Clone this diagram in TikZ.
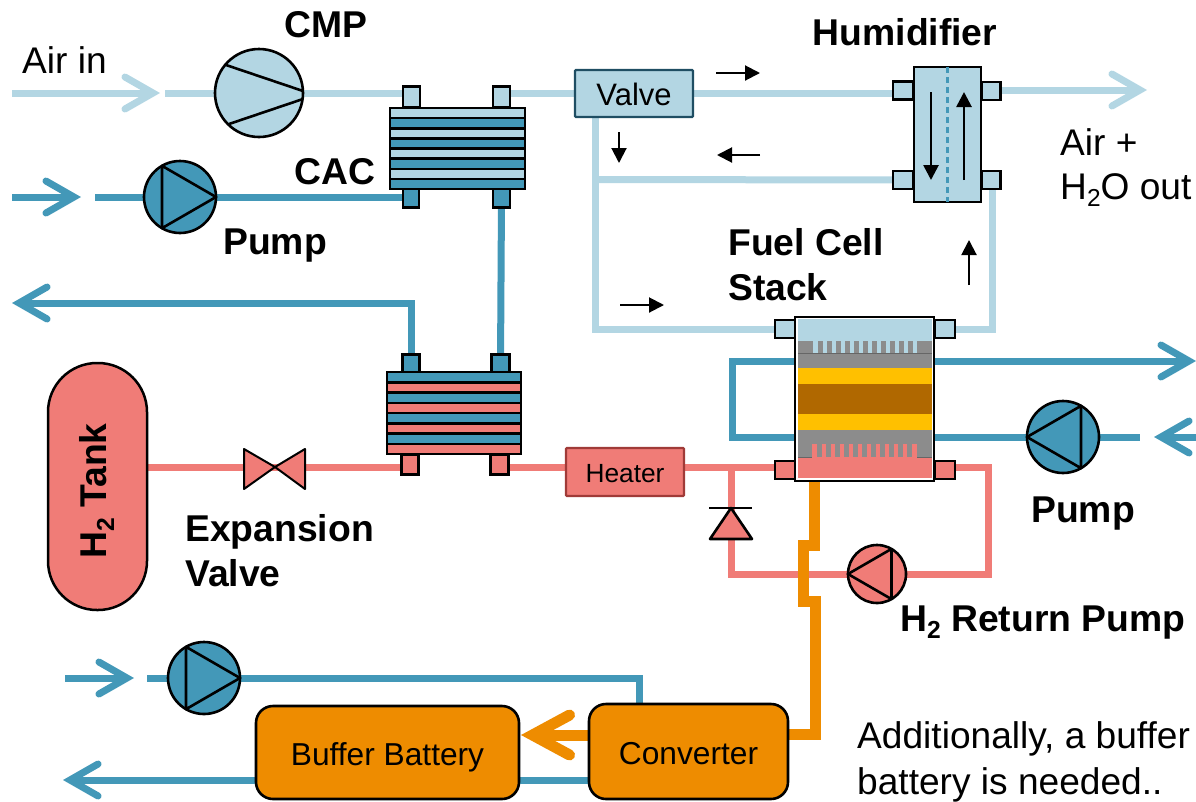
\documentclass[tikz,border=0pt]{standalone}
\usepackage{fontspec}
\setmainfont{Liberation Sans}
\usetikzlibrary{arrows.meta,calc,backgrounds}
\definecolor{lblue}{HTML}{B3D6E3}
\definecolor{teal}{HTML}{4398B8}
\definecolor{salm}{HTML}{F07C77}
\definecolor{orng}{HTML}{EE8C00}
\definecolor{yell}{HTML}{FFC000}
\definecolor{brwn}{HTML}{B06800}
\definecolor{gry}{HTML}{8C8C8C}
\definecolor{valveline}{HTML}{1F4E63}
\definecolor{heatline}{HTML}{A03B38}
\newcommand\fs[1]{\fontsize{#1}{#1}\selectfont}
\newcommand\subtwo{\raisebox{-0.2em}{\scalebox{0.66}{2}}}
\newcommand\pumptri[3]{\draw[symline] ($(#1)+(#3:#2pt)$) -- ($(#1)+(#3+120:#2pt)$) -- ($(#1)+(#3+240:#2pt)$) -- cycle;}
\tikzset{
  pipe/.style={line width=7pt,line join=miter},
  air/.style={pipe,draw=lblue},
  cool/.style={pipe,draw=teal},
  hyd/.style={pipe,draw=salm},
  barb/.style={-{Straight Barb[length=28pt,width=32pt,line width=7pt,line cap=round,line join=miter]}},
  symline/.style={draw=black,line width=2.6pt,line join=round},
  port/.style={draw=black,line width=2.6pt,rectangle,inner sep=0pt,minimum width=#1,minimum height=17pt},
  pumpc/.style={draw=black,circle,line width=2.6pt,inner sep=0pt,outer sep=0pt,minimum size=#1},
  blackbox/.style={draw=black,line width=2.6pt,rectangle,inner sep=0pt,outer sep=0pt},
  compbox/.style={rectangle,inner sep=0pt,outer sep=0pt,line width=2.4pt,rounded corners=1pt},
  battbox/.style={draw=black,line width=2.6pt,fill=orng,rectangle,rounded corners=17pt,inner sep=0pt,outer sep=0pt,font=\fs{31.7},text height=25pt,text depth=0pt},
  lab/.style={font=\bfseries\fs{37.3},inner sep=0pt,text=black},
  txt/.style={font=\fs{37.1},inner sep=0pt,text=black},
  flow/.style={draw=black,line width=2pt,-{Triangle[length=15pt,width=15pt]}},
  hflow/.style={draw=black,line width=2.7pt,-{Triangle[length=15pt,width=15pt]}},
}
\begin{document}
\begin{tikzpicture}[x=1pt,y=-1pt]
\useasboundingbox (0,0) rectangle (1196,801);

% pumps / compressor
\node[pumpc=88pt,fill=lblue] (cmp) at (259,93) {};
\draw[symline] ($(cmp)+(-33,-28)$) -- ($(cmp)+(44,-2)$);
\draw[symline] ($(cmp)+(-30,31)$) -- ($(cmp)+(44,6)$);
\node[pumpc=72pt,fill=teal] (pumpa) at (180,197) {};
\pumptri{pumpa}{36}{0}
\node[pumpc=72pt,fill=teal] (pumpb) at (1063,437) {};
\pumptri{pumpb}{36}{180}
\node[pumpc=72pt,fill=teal] (pumpc) at (204,678) {};
\pumptri{pumpc}{36}{0}
\node[pumpc=58pt,fill=salm] (pumpr) at (877,574) {};
\pumptri{pumpr}{29}{180}

% CAC heat exchanger
\node[port=17pt,fill=lblue,minimum height=21pt] (cacpa) at (411.5,97) {};
\node[port=17pt,fill=lblue,minimum height=21pt] (cacpb) at (501.5,97) {};
\node[port=16pt,fill=teal,minimum height=19pt] (cacpc) at (411,198) {};
\node[port=17pt,fill=teal,minimum height=19pt] (cacpd) at (501.5,198) {};
\node[blackbox,minimum width=135pt,minimum height=81pt,fill=lblue] (cac) at (457.5,148.5) {};
\foreach \i in {0,...,7}{
  \pgfmathsetmacro\yy{108+\i*10.125}
  \pgfmathsetmacro\yz{108+(\i+1)*10.125}
  \pgfmathparse{int(mod(\i,2))}
  \ifnum\pgfmathresult=0 \def\cc{lblue}\else\def\cc{teal}\fi
  \draw[black,line width=2.5pt,fill=\cc] (390,\yy) rectangle (525,\yz);
}

% lower heat exchanger
\node[port=17pt,fill=teal,minimum height=18pt] (hxpa) at (411,363.5) {};
\node[port=18pt,fill=teal,minimum height=18pt] (hxpb) at (500.5,363.5) {};
\node[port=17pt,fill=salm,minimum height=20pt] (hxpc) at (410,464.5) {};
\node[port=18pt,fill=salm,minimum height=20pt] (hxpd) at (499.5,464.5) {};
\node[blackbox,minimum width=134pt,minimum height=82pt,fill=teal] (hx) at (454,413) {};
\foreach \i in {0,...,7}{
  \pgfmathsetmacro\yy{372+\i*10.25}
  \pgfmathsetmacro\yz{372+(\i+1)*10.25}
  \pgfmathparse{int(mod(\i,2))}
  \ifnum\pgfmathresult=0 \def\cc{teal}\else\def\cc{salm}\fi
  \draw[black,line width=2.5pt,fill=\cc] (387,\yy) rectangle (521,\yz);
}

% humidifier
\node[port=20pt,fill=lblue,minimum height=18pt] (humpa) at (903,90.5) {};
\node[port=20pt,fill=lblue,minimum height=18pt] (humpb) at (903,180) {};
\node[port=19pt,fill=lblue,minimum height=18pt] (humpc) at (991,91) {};
\node[port=19pt,fill=lblue,minimum height=18pt] (humpd) at (991,180) {};
\node[blackbox,minimum width=67pt,minimum height=135pt,fill=lblue] (hum) at (947.5,134.5) {};
\draw[teal,line width=2.5pt,dash pattern=on 6pt off 4pt] (hum.north) -- (hum.south);
\coordinate (hda) at (931,92);
\coordinate (hdb) at (931,180);
\coordinate (hua) at (964,180);
\coordinate (hub) at (964,92);
\draw[hflow] (hda) -- (hdb);
\draw[hflow] (hua) -- (hub);

% fuel cell stack
\node[port=20pt,fill=lblue,minimum height=18pt] (fcpa) at (785,329) {};
\node[port=20pt,fill=lblue,minimum height=18pt] (fcpb) at (945,329) {};
\node[port=20pt,fill=salm,minimum height=18pt] (fcpc) at (785,470) {};
\node[port=20pt,fill=salm,minimum height=18pt] (fcpd) at (945,470) {};
\node[blackbox,minimum width=139pt,minimum height=164pt,fill=white] (fc) at (864.5,399) {};
\fill[lblue] (798,319) rectangle (932,353);
\fill[gry] (798,341) rectangle (813,353);
\fill[gry] (917,341) rectangle (932,353);
\foreach \i in {0,...,10}{ \fill[gry] (818.3+\i*9,341) rectangle (822.6+\i*9,353); }
\fill[gry] (798,353) rectangle (932,368);
\fill[yell] (798,368) rectangle (932,384);
\fill[brwn] (798,384) rectangle (932,414);
\fill[yell] (798,414) rectangle (932,430);
\fill[gry] (798,430) rectangle (932,444);
\fill[salm] (798,444) rectangle (932,478);
\fill[gry] (798,444) rectangle (812,457);
\fill[gry] (917,444) rectangle (932,457);
\foreach \i in {0,...,10}{ \fill[gry] (817.3+\i*9,444) rectangle (821.8+\i*9,457); }
\draw[black!60,line width=.7pt] (798,353) -- (932,353) (798,457) -- (812,457) (917,457) -- (932,457);

% boxes
\node[compbox,draw=valveline,fill=lblue,minimum width=118pt,minimum height=47pt,font=\fs{31},text height=23pt,text depth=0pt] (valve) at (634,93.5) {Valve};
\node[compbox,draw=heatline,fill=salm,minimum width=118pt,minimum height=48pt,font=\fs{26.3},text height=21pt,text depth=0pt] (heater) at (625,472) {Heater};
\node[battbox,minimum width=263pt,minimum height=93pt] (batt) at (387.5,752.5) {Buffer Battery};
\node[battbox,minimum width=199pt,minimum height=95pt] (conv) at (688.5,751.5) {Converter};
\node[draw=black,line width=2.5pt,fill=salm,rounded corners=49pt,minimum width=99pt,minimum height=247pt,inner sep=0pt,outer sep=0pt] (tank) at (97.5,486.5) {};
\node[rotate=90,font=\bfseries\fs{37.3},inner sep=0pt] (tanklab) at (97,491) {H\subtwo{} Tank};

% expansion valve
\node[inner sep=0pt,minimum size=0pt] (ev) at (275,467) {};
\draw[symline,fill=salm,line width=2pt] (ev.center) -- (244,449) -- (244,489) -- cycle;
\draw[symline,fill=salm,line width=2pt] (ev.center) -- (305,449) -- (305,489) -- cycle;

% diode
\node[inner sep=0pt,minimum size=0pt] (dio) at (731,508) {};
\draw[symline,fill=salm] (dio.center) -- (710,539) -- (752,539) -- cycle;
\draw[black,line width=2.6pt] (709,508) -- (752,508);

% pipes on background layer
\begin{scope}[on background layer]
\coordinate (ain) at (12,93);
\coordinate (aintip) at (160,93);
\coordinate (aon) at (165,93);
\draw[air,barb] (ain) -- (aintip);
\draw[air] (aon) -- (cmp.center);
\draw[air] (cmp.center) -- (cacpa.center |- cmp.center);
\draw[air] (cacpb.center |- cmp.center) -- (valve.west |- cmp.center);
\draw[air] (valve.center |- cmp.center) -- (humpa.center |- cmp.center);
\coordinate (aout) at (1147,90);
\draw[air,barb] (humpc.center |- aout) -- (aout);
\coordinate (lj) at (595,179.5);
\draw[air] (lj |- valve.south) -- (lj |- fcpa) -- (fcpa.center);
\draw[air] (lj) -- (humpb.center);
\draw[air] (fcpb.center) -- (992,329) -- (992,180);

\coordinate (ca) at (12,197);
\coordinate (catip) at (81,197);
\coordinate (cb) at (95,197);
\draw[cool,barb] (ca) -- (catip);
\draw[cool] (cb) -- (pumpa.center);
\draw[cool] (pumpa.center) -- (cacpc.center |- pumpa.center);
\draw[cool] (cacpd.center) -- (hxpb.center);
\coordinate (cc) at (12,303);
\draw[cool,barb] (hxpa.center) -- (411,303) -- (cc);
\draw[cool] (fc.center |- 0,361) -- (732,361) -- (732,437) -- (fc.center |- 0,437);
\coordinate (cd) at (1196,361);
\draw[cool,barb] (fc.center |- cd) -- (cd);
\draw[cool] (fc.center |- pumpb.center) -- (pumpb.center);
\coordinate (ce) at (1140,437);
\draw[cool] (pumpb.center) -- (ce);
\coordinate (cf) at (1196,437);
\coordinate (cg) at (1154,437);
\draw[cool,barb] (cf) -- (cg);
\coordinate (ch) at (65,678);
\coordinate (chtip) at (134,678);
\coordinate (ci) at (147,678);
\draw[cool,barb] (ch) -- (chtip);
\draw[cool] (ci) -- (pumpc.center);
\draw[cool] (pumpc.center) -- (639,678) -- (639,0 |- conv.north);
\draw[cool] (conv.center |- 0,780) -- (batt.center |- 0,780);
\coordinate (cj) at (63,780);
\draw[cool,barb] (batt.center |- cj) -- (cj);

\draw[hyd] (tank.center |- ev) -- (hxpc.center |- ev);
\draw[hyd] (hxpd.center |- ev) -- (fcpc.center |- ev);
\draw[hyd] (731,467) -- (731,574) -- (pumpr.center);
\draw[hyd] (pumpr.center) -- (988,574) -- (988,467) -- (fcpd.center |- 0,467);

\draw[orng,line width=11pt,line join=miter] (814,0 |- fc.south) -- (814,545) -- (803,545) -- (803,601) -- (815.5,601) -- (815.5,734.5) -- (conv.center |- 0,734.5);
\coordinate (otip) at (521,735);
\draw[orng,line width=11pt,-{Straight Barb[length=37pt,width=40pt,line width=11pt,line cap=round,line join=miter]}] (conv.center |- otip) -- (otip);
\end{scope}

% small flow arrows
\coordinate (fa) at (716,73); \coordinate (fb) at (760,73);
\draw[flow] (fa) -- (fb);
\coordinate (fc1) at (760,155); \coordinate (fd) at (717,155);
\draw[flow] (fc1) -- (fd);
\coordinate (fe) at (619,132); \coordinate (ff) at (619,163);
\draw[flow] (fe) -- (ff);
\coordinate (fg) at (620,305); \coordinate (fh) at (664,305);
\draw[flow] (fg) -- (fh);
\coordinate (fi) at (969,285); \coordinate (fj) at (969,240);
\draw[flow] (fi) -- (fj);

% labels
\node[txt,anchor=base west] (tair) at (22,73) {Air in};
\node[lab,anchor=base] (tcmp) at (326,37) {CMP};
\node[lab,anchor=base] (thum) at (905,45) {Humidifier};
\node[txt,anchor=base west] (taa) at (1060,155) {Air +};
\node[txt,anchor=base west] (tab) at (1060,199) {H\subtwo{}O out};
\node[lab,anchor=base] (tcac) at (335,184) {CAC};
\node[lab,anchor=base] (tpa) at (275,254) {Pump};
\node[lab,anchor=base west] (tfa) at (728,255) {Fuel Cell};
\node[lab,anchor=base west] (tfb) at (728,300) {Stack};
\node[lab,anchor=base] (tpb) at (1083,522) {Pump};
\node[lab,anchor=base west] (tea) at (185,541) {Expansion};
\node[lab,anchor=base west] (teb) at (185,586) {Valve};
\node[lab,anchor=base west] (tret) at (900,631) {H\subtwo{} Return Pump};
\node[txt,anchor=base west] (tba) at (857,748) {Additionally, a buffer};
\node[txt,anchor=base west] (tbb) at (857,794) {battery is needed..};
\end{tikzpicture}
\end{document}
